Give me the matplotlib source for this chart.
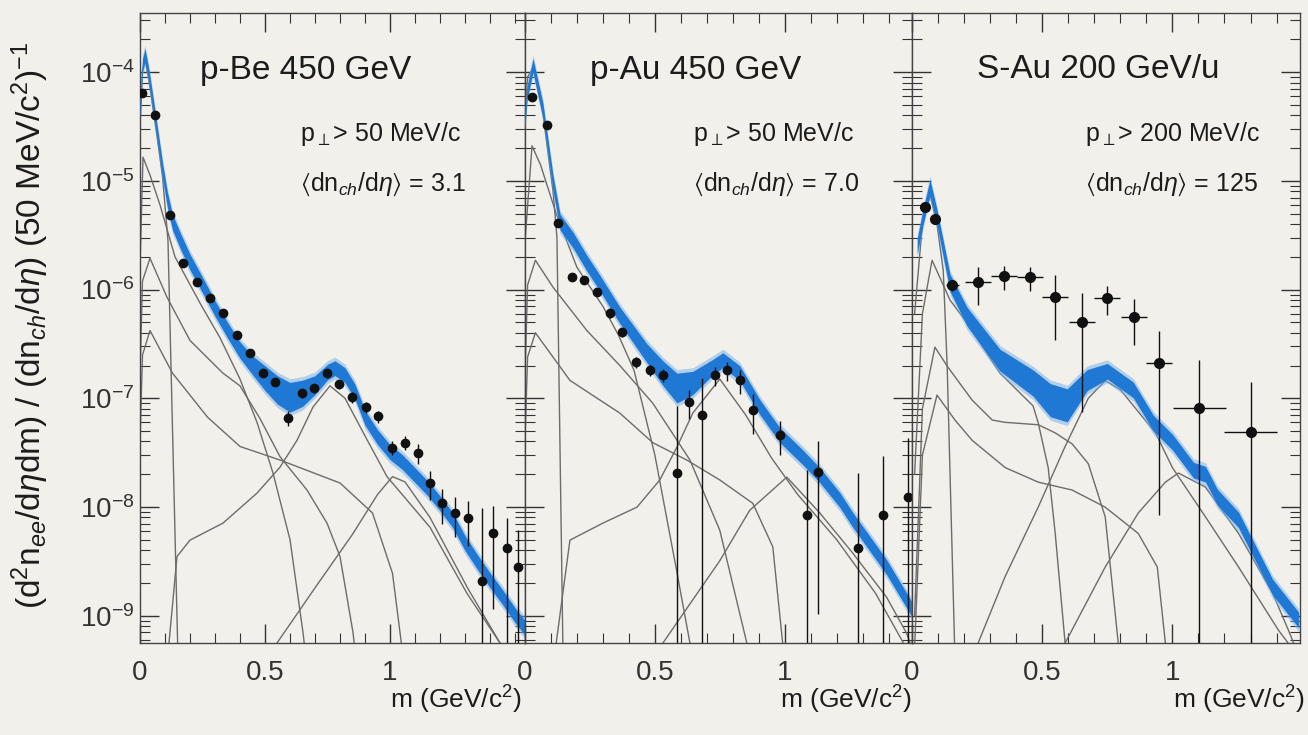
import matplotlib
matplotlib.use("Agg")
import matplotlib.pyplot as plt
import numpy as np
from matplotlib.ticker import FixedLocator, FixedFormatter, LogLocator, FuncFormatter, NullFormatter

plt.rcParams["font.family"] = ["Liberation Sans", "DejaVu Sans"]
plt.rcParams["mathtext.fontset"] = "custom"
plt.rcParams["mathtext.rm"] = "Liberation Sans"
plt.rcParams["mathtext.it"] = "Liberation Sans:italic"
plt.rcParams["mathtext.fallback"] = "stixsans"

# ---------------- p-Be 450 GeV ----------------
be_band_m = [0.0, 0.01, 0.02, 0.035, 0.05, 0.07, 0.09, 0.11, 0.13, 0.16, 0.2, 0.25, 0.3, 0.35,
             0.4, 0.45, 0.5, 0.55, 0.6, 0.65, 0.7, 0.75, 0.78, 0.82, 0.86, 0.9, 0.95, 1.0,
             1.05, 1.1, 1.15, 1.2, 1.25, 1.3, 1.35, 1.4, 1.45, 1.5, 1.54]
be_band_v = [4.47e-5, 1.16e-4, 1.43e-4, 9.4e-5, 5.5e-5, 2.63e-5, 1.25e-5, 6.6e-6, 4.17e-6,
             2.85e-6, 1.79e-6, 1.10e-6, 6.7e-7, 4.23e-7, 2.77e-7, 2.01e-7, 1.53e-7, 1.19e-7,
             1.02e-7, 1.11e-7, 1.32e-7, 1.74e-7, 1.89e-7, 1.63e-7, 1.15e-7, 6.6e-8, 4.39e-8,
             3.19e-8, 2.58e-8, 1.96e-8, 1.49e-8, 1.08e-8, 7.6e-9, 4.65e-9, 3.10e-9, 2.12e-9,
             1.48e-9, 1.01e-9, 7.7e-10]
be_band_s = [0.15, 0.15, 0.15, 0.15, 0.16, 0.17, 0.18, 0.18, 0.18, 0.18, 0.18, 0.18, 0.18, 0.18,
             0.19, 0.22, 0.3, 0.35, 0.37, 0.32, 0.22, 0.18, 0.17, 0.17, 0.17, 0.17, 0.17, 0.17,
             0.17, 0.17, 0.17, 0.17, 0.17, 0.17, 0.17, 0.17, 0.17, 0.17, 0.17]

be_m = [0.008, 0.06, 0.12, 0.172, 0.228, 0.28, 0.332, 0.388, 0.44, 0.492, 0.54, 0.592, 0.648,
        0.696, 0.748, 0.796, 0.848, 0.904, 0.952, 1.008, 1.06, 1.112, 1.16, 1.208, 1.26, 1.312,
        1.368, 1.412, 1.468, 1.51]
be_v = [6.4e-5, 4.0e-5, 4.8e-6, 1.75e-6, 1.17e-6, 8.3e-7, 6.1e-7, 3.8e-7, 2.6e-7, 1.7e-7,
        1.41e-7, 6.6e-8, 1.11e-7, 1.24e-7, 1.7e-7, 1.35e-7, 1.02e-7, 8.3e-8, 6.8e-8, 3.5e-8,
        3.9e-8, 3.13e-8, 1.66e-8, 1.08e-8, 8.8e-9, 7.9e-9, 2.1e-9, 5.7e-9, 4.2e-9, 2.8e-9]
be_err = [0.05, 0.05, 0.05, 0.06, 0.06, 0.06, 0.07, 0.07, 0.08, 0.08, 0.09, 0.15, 0.1, 0.1,
          0.1, 0.1, 0.11, 0.12, 0.13, 0.15, 0.15, 0.2, 0.3, 0.35, 0.4, 0.45, 3.7, 0.8, 0.9, 1.2]

be_pi0 = ([0.001, 0.01, 0.02, 0.035, 0.05, 0.07, 0.09, 0.112, 0.152],
          [3.5e-5, 1.05e-4, 1.3e-4, 8.6e-5, 5.0e-5, 2.4e-5, 1.1e-5, 2.8e-6, 4e-10])
be_eta = ([0.001, 0.012, 0.04, 0.08, 0.14, 0.24, 0.32, 0.4, 0.468, 0.532, 0.6, 0.652, 0.67],
          [2e-6, 1.65e-5, 1.13e-5, 6e-6, 2.0e-6, 7.5e-7, 3.6e-7, 1.5e-7, 6e-8, 2.05e-8, 5e-9,
           7e-10, 3e-10])
be_omd = ([0.001, 0.01, 0.04, 0.108, 0.2, 0.332, 0.4, 0.48, 0.56, 0.668, 0.748, 0.8, 0.852, 0.87],
          [2e-7, 1.2e-6, 1.94e-6, 8.5e-7, 3.4e-7, 1.7e-7, 1.3e-7, 6.5e-8, 2.9e-8, 1.43e-8,
           7.1e-9, 3.5e-9, 7e-10, 3e-10])
be_etap = ([0.001, 0.01, 0.04, 0.13, 0.27, 0.4, 0.56, 0.8, 0.93, 1.01, 1.04, 1.06],
           [5e-8, 2.5e-7, 4.2e-7, 1.7e-7, 6.7e-8, 3.6e-8, 2.7e-8, 1.66e-8, 8.8e-9, 2.45e-9,
            7e-10, 3e-10])
be_rho = ([0.105, 0.148, 0.2, 0.332, 0.468, 0.56, 0.628, 0.692, 0.76, 0.82, 0.9, 0.988, 1.16,
           1.308, 1.44, 1.54],
          [3e-10, 3.5e-9, 4.95e-9, 7.1e-9, 1.34e-8, 2.32e-8, 4.1e-8, 8.3e-8, 1.3e-7, 1.0e-7,
           4.5e-8, 1.9e-8, 6.5e-9, 1.6e-9, 5.6e-10, 2.5e-10])
be_phi = ([0.548, 0.7, 0.85, 0.95, 1.01, 1.06, 1.16, 1.31, 1.44, 1.5],
          [5.6e-10, 1.8e-9, 5.6e-9, 1.3e-8, 1.9e-8, 1.7e-8, 8e-9, 1.8e-9, 5.6e-10, 3e-10])

# ---------------- p-Au 450 GeV ----------------
au_band_m = [0.0, 0.008, 0.031, 0.069, 0.108, 0.135, 0.185, 0.238, 0.288, 0.365, 0.469, 0.531,
             0.585, 0.646, 0.723, 0.762, 0.827, 0.904, 0.981, 1.069, 1.135, 1.212, 1.262,
             1.392, 1.492]
au_band_v = [3.6e-5, 6.4e-5, 1.16e-4, 4.47e-5, 9.5e-6, 4.17e-6, 2.85e-6, 1.75e-6, 1.15e-6,
             5.8e-7, 2.6e-7, 1.7e-7, 1.24e-7, 1.38e-7, 1.93e-7, 2.24e-7, 1.7e-7, 8.3e-8,
             4.58e-8, 2.87e-8, 1.96e-8, 1.16e-8, 7.6e-9, 2.8e-9, 1.12e-9]
au_band_s = [0.15, 0.15, 0.15, 0.16, 0.18, 0.18, 0.18, 0.18, 0.18, 0.19, 0.22, 0.3, 0.37,
             0.28, 0.18, 0.17, 0.17, 0.17, 0.17, 0.17, 0.17, 0.17, 0.17, 0.17, 0.17]

au_m = [0.027, 0.085, 0.127, 0.181, 0.227, 0.277, 0.327, 0.373, 0.427, 0.481, 0.531, 0.585,
        0.631, 0.681, 0.731, 0.777, 0.827, 0.877, 0.981, 1.085, 1.127, 1.281, 1.377, 1.473]
au_v = [5.9e-5, 3.25e-5, 4.1e-6, 1.3e-6, 1.22e-6, 9.5e-7, 6.1e-7, 4.05e-7, 2.15e-7, 1.81e-7,
        1.63e-7, 2.05e-8, 9.2e-8, 7.0e-8, 1.63e-7, 1.81e-7, 1.47e-7, 7.8e-8, 4.6e-8, 8.4e-9,
        2.09e-8, 4.2e-9, 8.4e-9, 1.23e-8]
au_err = [0.05, 0.05, 0.06, 0.08, 0.08, 0.09, 0.1, 0.1, 0.12, 0.12, 0.13, 3.1, 0.3, 1.2, 0.2,
          0.2, 0.25, 0.4, 0.35, 1.6, 0.95, 3.9, 2.5, 2.5]

au_pi0 = ([0.001, 0.01, 0.031, 0.07, 0.108, 0.123, 0.146],
          [4e-5, 9e-5, 1.1e-4, 4e-5, 8e-6, 3e-6, 5e-10])
au_eta = ([0.001, 0.027, 0.06, 0.12, 0.2, 0.3, 0.36, 0.42, 0.5, 0.585, 0.635, 0.65],
          [3e-6, 2.1e-5, 1.4e-5, 5e-6, 1.6e-6, 7e-7, 3.8e-7, 1.8e-7, 3e-8, 2.5e-9, 5.6e-10, 3e-10])
au_omd = ([0.001, 0.01, 0.04, 0.108, 0.238, 0.365, 0.492, 0.635, 0.75, 0.854, 0.87],
          [2e-7, 1.1e-6, 1.86e-6, 1.05e-6, 4.2e-7, 2.0e-7, 9e-8, 2.7e-8, 6.1e-9, 5.6e-10, 3e-10])
au_etap = ([0.001, 0.01, 0.04, 0.173, 0.365, 0.492, 0.623, 0.75, 0.877, 0.954, 0.992, 1.01],
           [5e-8, 2.4e-7, 4.0e-7, 1.46e-7, 7.3e-8, 3.9e-8, 2.7e-8, 1.77e-8, 1.08e-8, 4.3e-9,
            5.6e-10, 3e-10])
au_rho = ([0.105, 0.173, 0.3, 0.431, 0.519, 0.585, 0.646, 0.75, 0.85, 0.95, 1.05, 1.2, 1.35,
           1.45, 1.5],
          [3e-10, 4.95e-9, 7.1e-9, 9.95e-9, 1.77e-8, 3.55e-8, 7.3e-8, 1.5e-7, 7e-8, 2.8e-8,
           1.3e-8, 5e-9, 1.6e-9, 6e-10, 3.5e-10])
au_phi = ([0.531, 0.75, 0.865, 1.008, 1.135, 1.262, 1.392, 1.469, 1.49],
          [5.6e-10, 3.2e-9, 9.3e-9, 1.88e-8, 8.8e-9, 3.76e-9, 1.48e-9, 6.9e-10, 5e-10])

# ---------------- S-Au 200 GeV/u ----------------
sau_band_m = [0.02, 0.042, 0.069, 0.096, 0.146, 0.212, 0.338, 0.465, 0.531, 0.596, 0.673,
              0.75, 0.85, 0.927, 1.0, 1.081, 1.127, 1.173, 1.254, 1.385, 1.485]
sau_band_v = [2.5e-6, 4.6e-6, 8.7e-6, 4.6e-6, 1.15e-6, 5.6e-7, 2.24e-7, 1.38e-7, 9.6e-8,
              8.6e-8, 1.47e-7, 1.77e-7, 1.19e-7, 5.9e-8, 3.95e-8, 2.18e-8, 2.0e-8, 1.23e-8,
              7.6e-9, 1.83e-9, 9.1e-10]
sau_band_s = [0.18, 0.18, 0.18, 0.18, 0.2, 0.22, 0.26, 0.32, 0.42, 0.42, 0.25, 0.18, 0.18,
              0.18, 0.18, 0.18, 0.18, 0.18, 0.18, 0.18, 0.18]

sau_m = [0.05, 0.088, 0.154, 0.254, 0.354, 0.454, 0.55, 0.654, 0.75, 0.854, 0.95, 1.104, 1.3]
sau_v = [5.7e-6, 4.5e-6, 1.1e-6, 1.17e-6, 1.33e-6, 1.3e-6, 8.5e-7, 5.0e-7, 8.3e-7, 5.6e-7,
         2.1e-7, 8.1e-8, 4.9e-8]
sau_err = [0.08, 0.08, 0.12, 0.38, 0.25, 0.25, 0.6, 0.85, 0.3, 0.45, 0.96, 1.77, 1.9]
sau_xerr = [0.01, 0.02, 0.025, 0.05, 0.05, 0.05, 0.05, 0.05, 0.05, 0.05, 0.05, 0.1, 0.1]

sau_pi0 = ([0.01, 0.04, 0.069, 0.096, 0.12, 0.135, 0.165],
           [6e-7, 4e-6, 7.5e-6, 4.0e-6, 1.5e-6, 2e-7, 4e-10])
sau_eta = ([0.01, 0.04, 0.077, 0.146, 0.212, 0.338, 0.465, 0.485, 0.523, 0.55, 0.588, 0.6],
           [2e-8, 6e-7, 1.86e-6, 8e-7, 4.9e-7, 1.7e-7, 8.5e-8, 5.9e-8, 2.3e-8, 5.7e-9, 5.6e-10,
            3e-10])
sau_omd = ([0.01, 0.04, 0.088, 0.138, 0.231, 0.308, 0.358, 0.485, 0.55, 0.615, 0.677, 0.742,
            0.792, 0.81],
           [1e-9, 8e-8, 2.95e-7, 1.93e-7, 9.6e-8, 6.3e-8, 6.0e-8, 5.7e-8, 4.8e-8, 3.8e-8, 2.5e-8,
            8.1e-9, 5.6e-10, 3e-10])
sau_etap = ([0.01, 0.04, 0.096, 0.165, 0.231, 0.358, 0.485, 0.615, 0.742, 0.869, 0.942, 0.973,
             0.99],
            [5e-10, 3e-8, 1.07e-7, 6.3e-8, 4.1e-8, 2.3e-8, 1.69e-8, 1.43e-8, 9.95e-9, 5.7e-9,
             2.8e-9, 5.6e-10, 3e-10])
sau_rho = ([0.254, 0.358, 0.485, 0.588, 0.677, 0.742, 0.8, 0.935, 1.0, 1.127, 1.254, 1.408, 1.49],
           [5.6e-10, 2.3e-9, 1.0e-8, 3.6e-8, 1.0e-7, 1.45e-7, 1.2e-7, 4.8e-8, 2.3e-8, 8.1e-9,
            2.8e-9, 7.3e-10, 4e-10])
sau_phi = ([0.588, 0.742, 0.869, 0.973, 1.023, 1.127, 1.254, 1.385, 1.446, 1.49],
           [5.6e-10, 2.8e-9, 8.8e-9, 1.69e-8, 2.05e-8, 1.52e-8, 5.7e-9, 1.61e-9, 7.3e-10, 4e-10])

titles = ["p-Be 450 GeV", "p-Au 450 GeV", "S-Au 200 GeV/u"]
cuts = [r"p$_{\perp}$> 50 MeV/c", r"p$_{\perp}$> 50 MeV/c", r"p$_{\perp}$> 200 MeV/c"]
mults = ["3.1", "7.0", "125"]
y_major = [1e-9, 1e-8, 1e-7, 1e-6, 1e-5, 1e-4]

BG = "#f1f0eb"
YMIN, YMAX = 5.6e-10, 3.5e-4


def draw_panel(ax, band, data, curves, xmax, xerr=None, ms=6):
    bm, bv, bs = (np.asarray(a, dtype=float) for a in band)
    lo = bv / (1 + bs)
    hi = bv * (1 + bs)
    for cm, cv in curves:
        ax.plot(cm, cv, color="#6c6c6c", lw=1.0, zorder=2)
    ax.fill_between(bm, lo / 1.08, hi * 1.08, color="#74aee8", alpha=0.5, lw=0, zorder=3)
    ax.fill_between(bm, lo, hi, color="#1f78d4", lw=0, zorder=4)

    dm, dv, de = (np.asarray(a, dtype=float) for a in data)
    up = dv * de
    down = np.minimum(dv * de, dv - 1e-13)
    ax.errorbar(dm, dv, yerr=[down, up], xerr=xerr, fmt="o", color="#111111", ms=ms,
                elinewidth=1.0, capsize=0, zorder=5)

    ax.set_facecolor(BG)
    ax.set_yscale("log")
    ax.set_ylim(YMIN, YMAX)
    ax.set_xlim(0, xmax)
    ax.xaxis.set_major_locator(FixedLocator([0, 0.5, 1.0]))
    ax.xaxis.set_major_formatter(FixedFormatter(["0", "0.5", "1"]))
    ax.xaxis.set_minor_locator(FixedLocator(np.arange(0.1, 1.55, 0.1)))
    ax.yaxis.set_major_locator(FixedLocator(y_major))
    ax.yaxis.set_minor_locator(LogLocator(base=10, subs=np.arange(2, 10), numticks=200))
    ax.yaxis.set_minor_formatter(NullFormatter())
    ax.tick_params(which="both", direction="in", top=True, right=True, colors="#333333")
    ax.tick_params(which="major", length=14, width=1.0, labelsize=20)
    ax.tick_params(which="minor", length=7, width=0.8)
    ax.tick_params(axis="x", pad=12)
    ax.tick_params(axis="y", pad=4)
    for s in ax.spines.values():
        s.set_color("#444444")
        s.set_linewidth(1.0)


fig = plt.figure(figsize=(13.08, 7.35), dpi=100)
fig.patch.set_facecolor(BG)

W, H = 1308.0, 735.0
bottom = 1 - 643 / H
height = 630 / H
ax1 = fig.add_axes([140 / W, bottom, 385 / W, height])
ax2 = fig.add_axes([525 / W, bottom, 387 / W, height])
ax3 = fig.add_axes([912 / W, bottom, 388 / W, height])

draw_panel(ax1, (be_band_m, be_band_v, be_band_s), (be_m, be_v, be_err),
           [be_pi0, be_eta, be_omd, be_etap, be_rho, be_phi], 1.54)
draw_panel(ax2, (au_band_m, au_band_v, au_band_s), (au_m, au_v, au_err),
           [au_pi0, au_eta, au_omd, au_etap, au_rho, au_phi], 1.49)
draw_panel(ax3, (sau_band_m, sau_band_v, sau_band_s), (sau_m, sau_v, sau_err),
           [sau_pi0, sau_eta, sau_omd, sau_etap, sau_rho, sau_phi], 1.49,
           xerr=sau_xerr, ms=7)

ax1.yaxis.set_major_formatter(
    FuncFormatter(lambda v, p: r"$\mathregular{10^{%d}}$" % int(round(np.log10(v)))))
ax2.yaxis.set_major_formatter(NullFormatter())
ax3.yaxis.set_major_formatter(NullFormatter())

# panel texts
title_x = [200, 590, 977]
cut_x = [300, 693, 1085]
for i in range(3):
    fig.text(title_x[i] / W, 1 - 70 / H, titles[i], fontsize=24, color="#1c1c1c",
             ha="left", va="center")
    fig.text(cut_x[i] / W, 1 - 134 / H, cuts[i], fontsize=18, color="#1c1c1c",
             ha="left", va="center")
    fig.text(cut_x[i] / W, 1 - 184 / H,
             r"$\langle$dn$_{ch}$/d$\eta\rangle$ = " + mults[i],
             fontsize=18, color="#1c1c1c", ha="left", va="center")

for xr in [522, 912, 1305]:
    fig.text(xr / W, 1 - 700 / H, r"m (GeV/c$^2$)", fontsize=19, color="#1c1c1c",
             ha="right", va="center")

fig.text(30 / W, 1 - 325 / H,
         r"(d$^2$n$_{ee}$/d$\eta$dm) / (dn$_{ch}$/d$\eta$) (50 MeV/c$^2$)$^{-1}$",
         fontsize=24, color="#1c1c1c", rotation=90, ha="center", va="center")

fig.savefig("out.png", dpi=100, facecolor=BG)
